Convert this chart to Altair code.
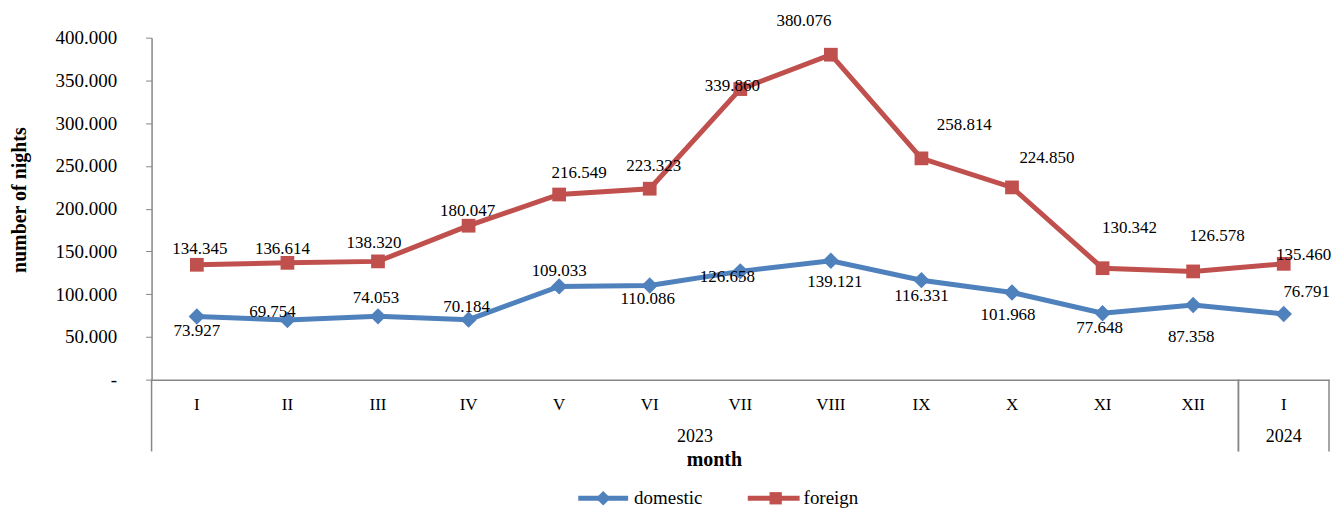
import altair as alt
import pandas as pd

# ---------------- data ----------------
MONTHS = ["I", "II", "III", "IV", "V", "VI", "VII", "VIII", "IX", "X", "XI", "XII", "I"]
YEARS = ["2023"] * 12 + ["2024"]
DOMESTIC = [73927, 69754, 74053, 70184, 109033, 110086, 126658, 139121, 116331, 101968, 77648, 87358, 76791]
FOREIGN = [134345, 136614, 138320, 180047, 216549, 223323, 339860, 380076, 258814, 224850, 130342, 126578, 135460]
SERIES = ["domestic", "foreign"]
Y_TICKS = [0, 50000, 100000, 150000, 200000, 250000, 300000, 350000, 400000]

# ---------------- style ----------------
COLORS = ["#4F81BD", "#C0504D"]
SHAPES = ["diamond", "square"]
MARKER_SIZES = [270, 190]
GRAY = "#878787"
FONT = "Liberation Serif"
W, H = 1181, 343

# data-label pixel offsets (label placement, as in the reference)
DOM_DX = [0, -15, -2, -2, 0, -2, -13, 4, 0, -4, -3, -2, 23]
DOM_DY = [15, -8, -18, -13, -15, 14, 6, 21, 16, 23, 15, 32, -22]
FOR_DX = [3, -5, -4, -1, 20, 4, -8, -27, 43, 35, 27, 24, 20]
FOR_DY = [-16, -14, -18, -15, -22, -23, -3, -34, -33, -29, -40, -36, -9]

rows = []
for s, vals, dxs, dys in [("domestic", DOMESTIC, DOM_DX, DOM_DY), ("foreign", FOREIGN, FOR_DX, FOR_DY)]:
    for i, (m, yr, v, dx, dy) in enumerate(zip(MONTHS, YEARS, vals, dxs, dys)):
        rows.append({"idx": i, "month": m, "year": yr, "series": s, "value": v, "dx": dx, "dy": dy})
df = pd.DataFrame(rows)
cat_df = pd.DataFrame({"idx": list(range(len(MONTHS))), "month": MONTHS, "year": YEARS})

x_scale = alt.Scale(domain=[-0.5, len(MONTHS) - 0.5], nice=False, zero=False)
x_axis = alt.Axis(labels=False, ticks=False, grid=False, domainColor=GRAY, domainWidth=1.5,
                  title="month", titleFont=FONT, titleFontSize=20, titleFontWeight="bold",
                  titleColor="black", titleX=564, titleY=80, titleAlign="center", titleBaseline="middle")
X = alt.X("idx:Q", scale=x_scale, axis=x_axis)

y_scale = alt.Scale(domain=[0, 400000], nice=False, zero=True)
y_axis = alt.Axis(values=Y_TICKS, grid=False, domainColor=GRAY, domainWidth=1.5, tickColor=GRAY,
                  tickSize=6, labelPadding=29, labelFont=FONT, labelFontSize=19, labelColor="black",
                  labelExpr="datum.value == 0 ? '-\u00a0\u00a0' : replace(format(datum.value, ',d'), ',', '.')",
                  title="number of nights", titleFont=FONT, titleFontSize=20, titleFontWeight="bold",
                  titleColor="black", titleX=-132, titleY=H / 2 - 9, titleAngle=-90, titleAlign="center",
                  titleBaseline="middle")
Y = alt.Y("value:Q", scale=y_scale, axis=y_axis)

color = alt.Color("series:N", scale=alt.Scale(domain=SERIES, range=COLORS), legend=None)

base = alt.Chart(df)
lines = base.mark_line(strokeWidth=5).encode(x=X, y=Y, color=color)
points = base.mark_point(filled=True, opacity=1).encode(
    x=X, y=Y, color=color,
    shape=alt.Shape("series:N", scale=alt.Scale(domain=SERIES, range=SHAPES), legend=None),
    size=alt.Size("series:N", scale=alt.Scale(domain=SERIES, range=MARKER_SIZES), legend=None),
)
labels = base.transform_calculate(
    label="replace(format(datum.value, ',d'), ',', '.')"
).mark_text(font=FONT, fontSize=17, color="black", baseline="middle", align="center",
            dx={"expr": "datum.dx"}, dy={"expr": "datum.dy"}).encode(
    x=X, y=Y, text="label:N",
)

cat = alt.Chart(cat_df)
month_text = cat.mark_text(font=FONT, fontSize=17, color="black", baseline="middle").encode(
    x=X, y=alt.value(H + 25), text="month:N")
year_text = cat.transform_aggregate(mid="mean(idx)", groupby=["year"]).mark_text(
    font=FONT, fontSize=18, color="black", baseline="middle").encode(
    x=alt.X("mid:Q", scale=x_scale, axis=x_axis), y=alt.value(H + 58), text="year:N")
sep_lo = cat.transform_aggregate(lo="min(idx)", groupby=["year"]).transform_calculate(
    b="datum.lo - 0.5").mark_rule(color=GRAY, strokeWidth=1.5).encode(
    x=alt.X("b:Q", scale=x_scale, axis=x_axis), y=alt.value(H), y2=alt.value(H + 72))
sep_hi = cat.transform_aggregate(hi="max(idx)", groupby=["year"]).transform_calculate(
    b="datum.hi + 0.5").mark_rule(color=GRAY, strokeWidth=1.5).encode(
    x=alt.X("b:Q", scale=x_scale, axis=x_axis), y=alt.value(H), y2=alt.value(H + 72))

# manual legend at the bottom
leg_layers = []
LEG_POS = {"domestic": (428, 478, 453, 484), "foreign": (598, 650, 626, 654)}
LEG_Y = 462
leg_df = pd.DataFrame({"series": SERIES})
for i, s in enumerate(SERIES):
    x1, x2, xm, xt = LEG_POS[s]
    ld = alt.Chart(leg_df).transform_filter(alt.datum.series == s)
    leg_layers.append(ld.mark_rule(strokeWidth=5, color=COLORS[i]).encode(
        x=alt.value(x1), x2=alt.value(x2), y=alt.value(LEG_Y)))
    leg_layers.append(ld.mark_point(filled=True, opacity=1, shape=SHAPES[i], size=MARKER_SIZES[i] * 0.8,
                                    color=COLORS[i]).encode(x=alt.value(xm), y=alt.value(LEG_Y)))
    leg_layers.append(ld.mark_text(font=FONT, fontSize=19, color="black", align="left",
                                   baseline="middle").encode(x=alt.value(xt), y=alt.value(LEG_Y),
                                                             text="series:N"))

chart = alt.layer(
    sep_lo, sep_hi, lines, points, labels, month_text, year_text, *leg_layers
).properties(
    width=W, height=H,
    padding={"left": 144, "top": 29, "right": 4, "bottom": 130},
    autosize=alt.AutoSizeParams(type="none"),
    background="white",
).configure_view(stroke=None)

chart.save("out.html", embed_options={"renderer": "svg", "actions": False})
